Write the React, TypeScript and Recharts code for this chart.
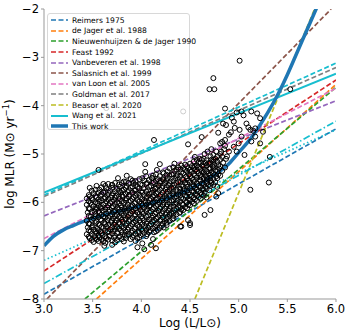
import React from 'react';
import { ComposedChart, Line, Scatter, XAxis, YAxis } from 'recharts';

const X_TICKS = [3.0, 3.5, 4.0, 4.5, 5.0, 5.5, 6.0];
const Y_TICKS = [-8, -7, -6, -5, -4, -3, -2];

// prescriptions: [logL, logMLR] end points
const REIMERS = [[3.0, -7.9], [6.0, -4.48]];
const DE_JAGER = [[3.54, -8.0], [6.0, -3.56]];
const NIEUWENHUIJZEN = [[3.42, -8.0], [6.0, -3.62]];
const FEAST = [[3.0, -7.42], [6.0, -3.47]];
const VANBEVEREN = [[3.0, -6.28], [6.0, -3.9]];
const SALASNICH = [[3.03, -8.0], [5.95, -2.0]];
const VAN_LOON = [[3.0, -6.75], [6.0, -3.64]];
const GOLDMAN = [[3.0, -5.88], [6.0, -3.21]];
const BEASOR = [[4.55, -8.0], [5.78, -2.0]];
const WANG = [[3.0, -5.8], [6.0, -3.34]];
const WANG_DASHED = [[3.0, -5.85], [6.0, -3.12]];
const WANG_DASHDOT = [[3.0, -7.68], [6.0, -4.32]];
const WANG_DOTTED = [[3.0, -7.2], [6.0, -4.5]];

const FIT_LOGL = [3.0, 3.1, 3.2, 3.3, 3.4, 3.5, 3.6, 3.7, 3.8, 3.9, 4.0, 4.1, 4.2, 4.3, 4.4, 4.5, 4.6, 4.7, 4.8, 4.9, 5.0, 5.1, 5.2, 5.3, 5.4, 5.5, 5.6, 5.7, 5.8];
const FIT_MLR = [-6.9, -6.7, -6.57, -6.48, -6.4, -6.33, -6.27, -6.22, -6.17, -6.12, -6.07, -6.02, -5.96, -5.89, -5.81, -5.72, -5.62, -5.5, -5.37, -5.2, -4.97, -4.74, -4.46, -4.14, -3.78, -3.36, -2.9, -2.44, -1.98];

// observed stars, [logL, logMLR]
const STARS = [
  [3.44, -5.92], [3.44, -6.05], [3.45, -6.21], [3.44, -6.38], [3.45, -6.52], [3.44, -6.66],
  [3.47, -5.7], [3.47, -5.88], [3.48, -6.01], [3.47, -6.14], [3.48, -6.3], [3.47, -6.45], [3.48, -6.6], [3.47, -6.74],
  [3.51, -5.81], [3.5, -5.95], [3.51, -6.08], [3.52, -6.19], [3.51, -6.33], [3.5, -6.48], [3.51, -6.57], [3.52, -6.7], [3.51, -6.82],
  [3.56, -5.33], [3.54, -5.66], [3.54, -5.9], [3.55, -6.02], [3.54, -6.12], [3.53, -6.25], [3.54, -6.4], [3.55, -6.55], [3.54, -6.63], [3.54, -6.77],
  [3.57, -5.74], [3.58, -5.86], [3.57, -5.99], [3.58, -6.1], [3.57, -6.22], [3.58, -6.35], [3.57, -6.47], [3.58, -6.6], [3.57, -6.72],
  [3.61, -5.62], [3.61, -5.8], [3.62, -5.93], [3.61, -6.05], [3.6, -6.17], [3.61, -6.29], [3.62, -6.42], [3.61, -6.53], [3.6, -6.68], [3.61, -6.8], [3.62, -6.9],
  [3.64, -5.71], [3.65, -5.85], [3.64, -5.98], [3.65, -6.11], [3.64, -6.24], [3.65, -6.37], [3.64, -6.5], [3.65, -6.62], [3.64, -6.74],
  [3.7, -5.64], [3.68, -5.76], [3.69, -5.9], [3.68, -6.02], [3.67, -6.15], [3.68, -6.28], [3.69, -6.41], [3.68, -6.56], [3.67, -6.7], [3.7, -6.88],
  [3.71, -5.82], [3.72, -5.95], [3.71, -6.08], [3.72, -6.2], [3.71, -6.33], [3.72, -6.46], [3.71, -6.59], [3.72, -6.73],
  [3.76, -5.5], [3.75, -5.72], [3.74, -5.87], [3.75, -6.0], [3.76, -6.13], [3.75, -6.26], [3.74, -6.38], [3.75, -6.51], [3.76, -6.64], [3.75, -6.78],
  [3.78, -5.68], [3.79, -5.8], [3.78, -5.93], [3.79, -6.06], [3.78, -6.19], [3.79, -6.31], [3.78, -6.45], [3.79, -6.58], [3.78, -6.7],
  [3.82, -5.57], [3.82, -5.74], [3.81, -5.88], [3.82, -6.01], [3.83, -6.14], [3.82, -6.27], [3.81, -6.4], [3.82, -6.53], [3.83, -6.67], [3.82, -6.81],
  [3.85, -5.45], [3.85, -5.66], [3.86, -5.79], [3.85, -5.92], [3.86, -6.05], [3.85, -6.17], [3.86, -6.3], [3.85, -6.43], [3.86, -6.56], [3.85, -6.69],
  [3.89, -5.52], [3.89, -5.7], [3.88, -5.84], [3.89, -5.97], [3.9, -6.1], [3.89, -6.23], [3.88, -6.36], [3.89, -6.49], [3.9, -6.63], [3.89, -6.76],
  [3.92, -5.6], [3.93, -5.76], [3.92, -5.89], [3.93, -6.02], [3.92, -6.15], [3.93, -6.28], [3.92, -6.41], [3.93, -6.55], [3.92, -6.68],
  [3.94, -5.56], [3.96, -5.68], [3.95, -5.82], [3.96, -5.95], [3.97, -6.08], [3.96, -6.21], [3.95, -6.34], [3.96, -6.47], [3.97, -6.61], [3.96, -6.74], [3.96, -6.93],
  [3.99, -5.63], [4.0, -5.77], [3.99, -5.9], [4.0, -6.03], [3.99, -6.16], [4.0, -6.29], [3.99, -6.42], [4.0, -6.56], [3.99, -6.68],
  [4.04, -5.21], [4.04, -5.37], [4.03, -5.55], [4.02, -5.71], [4.03, -5.85], [4.04, -5.98], [4.03, -6.11], [4.02, -6.24], [4.03, -6.37], [4.04, -6.5], [4.03, -6.63], [4.03, -6.97],
  [4.06, -5.6], [4.07, -5.75], [4.06, -5.88], [4.07, -6.01], [4.06, -6.14], [4.07, -6.27], [4.06, -6.4], [4.07, -6.53], [4.06, -6.66],
  [4.11, -5.5], [4.1, -5.66], [4.11, -5.8], [4.1, -5.93], [4.09, -6.06], [4.1, -6.19], [4.11, -6.32], [4.1, -6.45], [4.09, -6.58], [4.1, -6.88],
  [4.13, -5.58], [4.14, -5.72], [4.13, -5.85], [4.14, -5.98], [4.13, -6.11], [4.14, -6.24], [4.13, -6.37], [4.14, -6.5], [4.13, -6.62], [4.15, -6.95],
  [4.16, -5.33], [4.19, -5.21], [4.17, -5.52], [4.18, -5.66], [4.17, -5.79], [4.16, -5.92], [4.17, -6.05], [4.18, -6.18], [4.17, -6.31], [4.16, -6.44], [4.17, -6.57],
  [4.2, -5.56], [4.21, -5.7], [4.2, -5.84], [4.21, -5.97], [4.2, -6.1], [4.21, -6.23], [4.2, -6.36], [4.21, -6.49],
  [4.23, -5.4], [4.24, -5.6], [4.25, -5.74], [4.24, -5.87], [4.23, -6.0], [4.24, -6.13], [4.25, -6.26], [4.24, -6.39], [4.23, -6.52],
  [4.27, -5.36], [4.27, -5.5], [4.28, -5.64], [4.27, -5.78], [4.26, -5.91], [4.27, -6.04], [4.28, -6.17], [4.27, -6.3], [4.26, -6.42],
  [4.31, -5.42], [4.3, -5.57], [4.31, -5.7], [4.32, -5.83], [4.31, -5.96], [4.3, -6.09], [4.31, -6.22], [4.32, -6.35],
  [4.34, -5.2], [4.34, -5.35], [4.35, -5.5], [4.34, -5.64], [4.33, -5.77], [4.34, -5.9], [4.35, -6.03], [4.34, -6.16], [4.33, -6.28],
  [4.38, -5.28], [4.37, -5.44], [4.38, -5.58], [4.39, -5.71], [4.38, -5.84], [4.37, -5.97], [4.38, -6.1], [4.39, -6.22],
  [4.41, -5.24], [4.41, -5.38], [4.42, -5.52], [4.41, -5.65], [4.4, -5.78], [4.41, -5.91], [4.42, -6.04], [4.41, -6.15], [4.41, -6.5], [4.4, -6.5],
  [4.45, -5.22], [4.45, -5.33], [4.46, -5.47], [4.45, -5.6], [4.44, -5.73], [4.45, -5.86], [4.46, -5.99], [4.45, -6.1],
  [4.48, -4.8], [4.48, -5.3], [4.49, -5.42], [4.48, -5.55], [4.47, -5.68], [4.48, -5.81], [4.49, -5.94], [4.48, -6.05], [4.48, -6.37], [4.5, -6.47],
  [4.52, -5.25], [4.51, -5.37], [4.52, -5.5], [4.53, -5.63], [4.52, -5.76], [4.51, -5.88], [4.52, -5.99], [4.5, -6.43],
  [4.55, -5.06], [4.55, -5.26], [4.56, -5.32], [4.55, -5.45], [4.54, -5.58], [4.55, -5.71], [4.56, -5.83], [4.55, -5.94],
  [4.59, -5.17], [4.58, -5.28], [4.59, -5.4], [4.6, -5.53], [4.59, -5.66], [4.58, -5.78], [4.59, -5.89], [4.6, -5.1],
  [4.62, -4.65], [4.62, -5.12], [4.63, -5.24], [4.62, -5.36], [4.61, -5.48], [4.62, -5.61], [4.63, -5.73], [4.62, -5.84],
  [4.65, -5.0], [4.66, -5.19], [4.65, -5.32], [4.66, -5.44], [4.67, -5.56], [4.66, -5.68], [4.65, -5.8], [4.65, -6.26],
  [4.68, -4.95], [4.69, -5.19], [4.7, -5.3], [4.69, -5.41], [4.68, -5.52], [4.69, -5.64], [4.7, -5.75],
  [4.72, -4.9], [4.72, -5.12], [4.73, -5.25], [4.72, -5.37], [4.71, -5.49], [4.72, -5.6], [4.71, -6.16],
  [4.74, -5.12], [4.76, -5.1], [4.75, -5.22], [4.76, -5.34], [4.77, -5.46], [4.76, -5.58], [4.77, -5.88], [4.77, -4.95],
  [4.79, -5.23], [4.8, -5.3], [4.79, -5.42], [4.79, -5.81], [4.81, -4.78], [4.83, -5.06], [4.84, -5.18], [4.83, -5.35],
  [4.86, -4.83], [4.87, -5.1], [4.86, -5.28], [4.88, -5.05], [4.9, -4.95], [4.82, -4.95], [4.85, -4.9],
  [4.79, -4.56], [4.83, -4.75], [4.86, -4.71], [4.84, -4.37], [4.87, -4.4], [4.9, -4.6], [4.92, -4.55], [4.93, -4.25],
  [4.95, -4.33], [4.96, -4.46], [4.95, -4.85], [4.98, -4.14], [4.98, -4.95], [5.0, -4.78], [5.01, -4.5], [5.03, -4.12],
  [5.03, -4.64], [5.05, -4.2], [5.06, -5.02], [5.08, -4.37], [5.1, -4.45], [5.12, -4.5], [5.13, -4.12], [5.13, -4.74],
  [5.15, -4.52], [5.17, -4.47], [5.17, -4.64], [5.19, -4.16], [5.22, -4.26], [5.22, -4.78], [5.25, -4.54],
  [4.86, -4.06], [4.74, -3.43], [4.7, -3.66], [4.75, -3.66], [5.01, -3.07], [5.53, -3.66], [5.32, -5.06], [5.31, -5.59],
  [5.12, -5.74], [4.13, -4.71], [3.64, -4.05], [4.43, -4.12], [3.7, -5.64], [4.11, -5.5], [4.23, -5.54],
  // second pass through the dense core
  [3.46, -5.85], [3.46, -5.98], [3.46, -6.12], [3.46, -6.28], [3.46, -6.44], [3.46, -6.58], [3.46, -6.71],
  [3.49, -5.76], [3.49, -5.91], [3.49, -6.05], [3.49, -6.2], [3.49, -6.36], [3.49, -6.52], [3.49, -6.66], [3.49, -6.78],
  [3.53, -5.74], [3.53, -5.87], [3.53, -6.0], [3.53, -6.14], [3.53, -6.29], [3.53, -6.43], [3.53, -6.6], [3.53, -6.74],
  [3.56, -5.8], [3.56, -5.94], [3.56, -6.07], [3.56, -6.18], [3.56, -6.3], [3.56, -6.44], [3.56, -6.58], [3.56, -6.69], [3.56, -6.8],
  [3.59, -5.69], [3.59, -5.83], [3.59, -5.96], [3.59, -6.12], [3.59, -6.26], [3.59, -6.38], [3.59, -6.51], [3.59, -6.64], [3.59, -6.76],
  [3.63, -5.66], [3.63, -5.78], [3.63, -5.9], [3.63, -6.02], [3.63, -6.15], [3.63, -6.31], [3.63, -6.45], [3.63, -6.58], [3.63, -6.7], [3.63, -6.84],
  [3.66, -5.62], [3.66, -5.8], [3.66, -5.93], [3.66, -6.06], [3.66, -6.19], [3.66, -6.32], [3.66, -6.46], [3.66, -6.6], [3.66, -6.77],
  [3.7, -5.7], [3.7, -5.86], [3.7, -5.99], [3.7, -6.12], [3.7, -6.25], [3.7, -6.38], [3.7, -6.52], [3.7, -6.65], [3.7, -6.79],
  [3.73, -5.6], [3.73, -5.77], [3.73, -5.9], [3.73, -6.03], [3.73, -6.16], [3.73, -6.28], [3.73, -6.42], [3.73, -6.55], [3.73, -6.69], [3.73, -6.83],
  [3.77, -5.63], [3.77, -5.76], [3.77, -5.88], [3.77, -6.02], [3.77, -6.15], [3.77, -6.3], [3.77, -6.42], [3.77, -6.55], [3.77, -6.72],
  [3.8, -5.6], [3.8, -5.75], [3.8, -5.86], [3.8, -5.98], [3.8, -6.11], [3.8, -6.24], [3.8, -6.36], [3.8, -6.5], [3.8, -6.62], [3.8, -6.76],
  [3.84, -5.58], [3.84, -5.7], [3.84, -5.83], [3.84, -5.96], [3.84, -6.1], [3.84, -6.22], [3.84, -6.35], [3.84, -6.48], [3.84, -6.61], [3.84, -6.74],
  [3.87, -5.6], [3.87, -5.75], [3.87, -5.87], [3.87, -5.99], [3.87, -6.12], [3.87, -6.26], [3.87, -6.39], [3.87, -6.52], [3.87, -6.66],
  [3.91, -5.55], [3.91, -5.67], [3.91, -5.8], [3.91, -5.93], [3.91, -6.06], [3.91, -6.19], [3.91, -6.33], [3.91, -6.45], [3.91, -6.59], [3.91, -6.72],
  [3.94, -5.64], [3.94, -5.75], [3.94, -5.87], [3.94, -6.0], [3.94, -6.13], [3.94, -6.26], [3.94, -6.39], [3.94, -6.52], [3.94, -6.65], [3.94, -6.8],
  [3.98, -5.52], [3.98, -5.71], [3.98, -5.84], [3.98, -5.98], [3.98, -6.1], [3.98, -6.24], [3.98, -6.37], [3.98, -6.5], [3.98, -6.62], [3.98, -6.73],
  [4.01, -5.5], [4.01, -5.64], [4.01, -5.8], [4.01, -5.94], [4.01, -6.07], [4.01, -6.2], [4.01, -6.33], [4.01, -6.46], [4.01, -6.59], [4.01, -6.85],
  [4.05, -5.46], [4.05, -5.62], [4.05, -5.78], [4.05, -5.91], [4.05, -6.05], [4.05, -6.18], [4.05, -6.3], [4.05, -6.44], [4.05, -6.57], [4.05, -6.7],
  [4.08, -5.54], [4.08, -5.68], [4.08, -5.82], [4.08, -5.95], [4.08, -6.08], [4.08, -6.21], [4.08, -6.35], [4.08, -6.48], [4.08, -6.61],
  [4.12, -5.45], [4.12, -5.6], [4.12, -5.74], [4.12, -5.88], [4.12, -6.0], [4.12, -6.14], [4.12, -6.27], [4.12, -6.4], [4.12, -6.54], [4.12, -6.76],
  [4.15, -5.42], [4.15, -5.56], [4.15, -5.7], [4.15, -5.82], [4.15, -5.95], [4.15, -6.08], [4.15, -6.21], [4.15, -6.34], [4.15, -6.47], [4.15, -6.6],
  [4.19, -5.46], [4.19, -5.6], [4.19, -5.74], [4.19, -5.87], [4.19, -6.0], [4.19, -6.13], [4.19, -6.26], [4.19, -6.38], [4.19, -6.53],
  [4.22, -5.38], [4.22, -5.52], [4.22, -5.66], [4.22, -5.8], [4.22, -5.92], [4.22, -6.05], [4.22, -6.18], [4.22, -6.31], [4.22, -6.44],
  [4.26, -5.43], [4.26, -5.56], [4.26, -5.69], [4.26, -5.83], [4.26, -5.96], [4.26, -6.09], [4.26, -6.22], [4.26, -6.35], [4.26, -6.47],
  [4.29, -5.3], [4.29, -5.45], [4.29, -5.6], [4.29, -5.73], [4.29, -5.86], [4.29, -5.99], [4.29, -6.12], [4.29, -6.25], [4.29, -6.38],
  [4.33, -5.28], [4.33, -5.42], [4.33, -5.56], [4.33, -5.7], [4.33, -5.83], [4.33, -5.96], [4.33, -6.09], [4.33, -6.22], [4.33, -6.33],
  [4.36, -5.32], [4.36, -5.46], [4.36, -5.6], [4.36, -5.74], [4.36, -5.87], [4.36, -6.0], [4.36, -6.13], [4.36, -6.25],
  [4.4, -5.32], [4.4, -5.45], [4.4, -5.58], [4.4, -5.72], [4.4, -5.85], [4.4, -5.98], [4.4, -6.1], [4.4, -6.2],
  [4.43, -5.29], [4.43, -5.4], [4.43, -5.54], [4.43, -5.67], [4.43, -5.8], [4.43, -5.93], [4.43, -6.05], [4.43, -6.16],
  [4.47, -5.25], [4.47, -5.36], [4.47, -5.5], [4.47, -5.62], [4.47, -5.75], [4.47, -5.88], [4.47, -6.0], [4.47, -6.12],
  [4.5, -5.2], [4.5, -5.33], [4.5, -5.46], [4.5, -5.59], [4.5, -5.71], [4.5, -5.84], [4.5, -5.95], [4.5, -6.06],
  [4.54, -5.15], [4.54, -5.29], [4.54, -5.41], [4.54, -5.53], [4.54, -5.66], [4.54, -5.78], [4.54, -5.9], [4.54, -6.02],
  [4.57, -5.12], [4.57, -5.24], [4.57, -5.36], [4.57, -5.49], [4.57, -5.62], [4.57, -5.74], [4.57, -5.86], [4.57, -5.97],
  [4.61, -5.18], [4.61, -5.3], [4.61, -5.43], [4.61, -5.55], [4.61, -5.68], [4.61, -5.8], [4.61, -5.92],
  [4.64, -5.1], [4.64, -5.26], [4.64, -5.38], [4.64, -5.5], [4.64, -5.62], [4.64, -5.74], [4.64, -5.86],
  [4.67, -5.13], [4.67, -5.24], [4.67, -5.36], [4.67, -5.48], [4.67, -5.6], [4.67, -5.72], [4.67, -5.9],
  [4.71, -5.05], [4.71, -5.18], [4.71, -5.3], [4.71, -5.43], [4.71, -5.55], [4.71, -5.66],
  [4.74, -5.02], [4.74, -5.16], [4.74, -5.28], [4.74, -5.4], [4.74, -5.52], [4.74, -5.64],
  [4.78, -5.05], [4.78, -5.16], [4.78, -5.36], [4.78, -5.5], [4.78, -5.68],
  [4.81, -5.0], [4.81, -5.12], [4.81, -5.25], [4.81, -5.45],
];

const toPoints = (pts: number[][]) => pts.map(([x, y]) => ({ x, y }));
const fitPoints = FIT_LOGL.map((x, i) => ({ x, y: FIT_MLR[i] }));

const DASH = '5 2.5';
const SERIES = [
  { name: 'Reimers 1975', data: REIMERS, color: '#1f77b4', dash: DASH, width: 1.7 },
  { name: 'de Jager et al. 1988', data: DE_JAGER, color: '#ff7f0e', dash: DASH, width: 1.7 },
  { name: 'Nieuwenhuijzen & de Jager 1990', data: NIEUWENHUIJZEN, color: '#2ca02c', dash: DASH, width: 1.7 },
  { name: 'Feast 1992', data: FEAST, color: '#d62728', dash: DASH, width: 1.7 },
  { name: 'Vanbeveren et al. 1998', data: VANBEVEREN, color: '#9467bd', dash: DASH, width: 1.7 },
  { name: 'Salasnich et al. 1999', data: SALASNICH, color: '#8c564b', dash: DASH, width: 1.7 },
  { name: 'van Loon et al. 2005', data: VAN_LOON, color: '#e377c2', dash: DASH, width: 1.7 },
  { name: 'Goldman et al. 2017', data: GOLDMAN, color: '#7f7f7f', dash: DASH, width: 1.7 },
  { name: 'Beasor et al. 2020', data: BEASOR, color: '#bcbd22', dash: DASH, width: 1.7 },
];

const WANG_VARIANTS = [
  { data: WANG_DASHED, dash: DASH },
  { data: WANG_DASHDOT, dash: '7 2.5 1.5 2.5' },
  { data: WANG_DOTTED, dash: '1.5 2.5' },
];

const LEGEND = [
  ...SERIES.map((s) => ({ name: s.name, color: s.color, dash: s.dash, width: s.width })),
  { name: 'Wang et al. 2021', color: '#17becf', dash: undefined, width: 2 },
  { name: 'This work', color: '#1f77b4', dash: undefined, width: 3.5 },
];

const FONT = '"DejaVu Sans", sans-serif';

const Circle = (props: any) => (
  <circle cx={props.cx} cy={props.cy} r={2.5} fill="none" stroke="#000" strokeWidth={1} />
);

const YLabel = () => (
  <text x={14} y={154} transform="rotate(-90 14 154)" textAnchor="middle" fontSize={12} fontFamily={FONT} fill="#000">
    log MLR (M⊙ yr<tspan dy={-5} fontSize={8.5}>−1</tspan><tspan dy={5}>)</tspan>
  </text>
);

const XLabel = () => (
  <text x={190} y={327} textAnchor="middle" fontSize={12} fontFamily={FONT} fill="#000">
    Log (L/L⊙)
  </text>
);

const ChartLegend = () => (
  <div
    style={{
      position: 'absolute', left: 47, top: 13, width: 143, height: 117, boxSizing: 'border-box',
      border: '1px solid #d8d8d8', borderRadius: 3, background: 'rgba(255,255,255,0.8)',
      fontFamily: FONT, fontSize: 7.6, color: '#000', paddingTop: 1,
    }}
  >
    {LEGEND.map((item) => (
      <div key={item.name} style={{ height: 10.6, display: 'flex', alignItems: 'center', whiteSpace: 'nowrap' }}>
        <svg width={24} height={10} style={{ flex: 'none' }}>
          <line x1={3} x2={20} y1={5} y2={5} stroke={item.color} strokeWidth={item.width} strokeDasharray={item.dash} />
        </svg>
        <span>{item.name}</span>
      </div>
    ))}
  </div>
);

export default function App() {
  return (
    <div style={{ position: 'absolute', left: 0, top: 0, width: 350, height: 336, background: '#fff' }}>
      <ComposedChart width={350} height={336} margin={{ top: 9, right: 14, bottom: 0, left: 0 }}>
        <XAxis
          dataKey="x" type="number" domain={[3, 6]} ticks={X_TICKS} allowDataOverflow
          tickFormatter={(v: number) => v.toFixed(1)} height={37}
          stroke="#999" tickSize={3} tickMargin={3}
          tick={{ fill: '#000', fontSize: 11.5, fontFamily: FONT }}
          label={{ content: () => <XLabel /> }}
        />
        <XAxis xAxisId="top" orientation="top" type="number" domain={[3, 6]} tick={false} tickLine={false} height={0} stroke="#999" />
        <YAxis
          dataKey="y" type="number" domain={[-8, -2]} ticks={Y_TICKS} allowDataOverflow
          tickFormatter={(v: number) => String(v).replace('-', '−')} width={44}
          stroke="#999" tickSize={3} tickMargin={2}
          tick={{ fill: '#000', fontSize: 11.5, fontFamily: FONT }}
          label={{ content: () => <YLabel /> }}
        />
        <YAxis yAxisId="right" orientation="right" type="number" domain={[-8, -2]} tick={false} tickLine={false} width={0} stroke="#999" />
        <Scatter data={toPoints(STARS)} dataKey="y" shape={<Circle />} isAnimationActive={false} />
        {SERIES.map((s) => (
          <Line
            key={s.name} data={toPoints(s.data)} dataKey="y" type="linear" stroke={s.color}
            strokeWidth={s.width} strokeDasharray={s.dash} dot={false} activeDot={false} isAnimationActive={false}
          />
        ))}
        {WANG_VARIANTS.map((v, i) => (
          <Line
            key={`wang-${i}`} data={toPoints(v.data)} dataKey="y" type="linear" stroke="#17becf"
            strokeWidth={1.7} strokeDasharray={v.dash} dot={false} activeDot={false} isAnimationActive={false}
          />
        ))}
        <Line data={toPoints(WANG)} dataKey="y" type="linear" stroke="#17becf" strokeWidth={2} dot={false} activeDot={false} isAnimationActive={false} />
        <Line data={fitPoints} dataKey="y" type="monotone" stroke="#1f77b4" strokeWidth={3.5} dot={false} activeDot={false} isAnimationActive={false} />
      </ComposedChart>
      <ChartLegend />
    </div>
  );
}
